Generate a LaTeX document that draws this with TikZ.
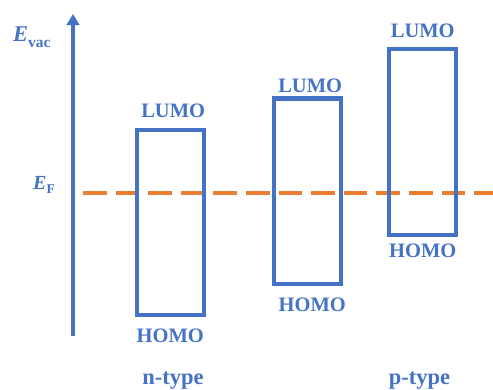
\documentclass[tikz,border=0pt]{standalone}
\usepackage{fontspec}
\setmainfont{Liberation Serif}
\usetikzlibrary{arrows.meta,positioning}
\definecolor{bandblue}{HTML}{4472C4}
\definecolor{fermiorange}{HTML}{ED7D31}
\newcommand{\sz}[1]{\fontsize{#1}{#1}\selectfont}

\begin{document}
\begin{tikzpicture}[x=1pt,y=-1pt,
    band/.style={draw=bandblue, line width=4.3pt, minimum width=67pt, minimum height=185.5pt, inner sep=0pt},
    lvl/.style={text=bandblue, font=\bfseries\sz{20.5}, inner sep=0pt},
    kind/.style={text=bandblue, font=\bfseries\sz{22.5}, inner sep=0pt, anchor=base}]
    \useasboundingbox (0,0) rectangle (493,389);
	  % energy axis and Fermi level
	  \coordinate (bottom) at (73,336); \coordinate (top) at (73,14);
	  \draw[bandblue, line width=4pt, -{Triangle[width=12.5pt,length=11pt]}] (bottom) -- (top);
	  \coordinate (fermiL) at (83,193); \coordinate (fermiR) at (493,193);
	  \draw[fermiorange, line width=3.3pt, dash pattern=on 23.6pt off 9pt] (fermiL) -- (fermiR);
	  \node[text=bandblue, anchor=base west, inner sep=0pt] (evac) at (13,41.7) {\sz{22.5}\textbf{\textit{E}}\raisebox{-5.5pt}{\bfseries\sz{15.5}vac}};
	  \node[text=bandblue, anchor=base west, inner sep=0pt] (ef) at (33,189) {\sz{20}\textbf{\textit{E}}\raisebox{-4.3pt}{\bfseries\sz{13.5}F}};
    % HOMO/LUMO gaps
		\node[band] (gap1) at (170.2,222.4) {};
		\node[band] (gap2) at (307.2,191.3) {};
		\node[band] (gap3) at (422.8,142) {};
		\node[lvl, above=10pt of gap1, xshift=3pt] (lumo1) {LUMO};
		\node[lvl, below=11pt of gap1] (homo1) {HOMO};
		\node[lvl, above=3.5pt of gap2, xshift=3pt] (lumo2) {LUMO};
		\node[lvl, below=11.5pt of gap2, xshift=5pt] (homo2) {HOMO};
		\node[lvl, above=9pt of gap3] (lumo3) {LUMO};
		\node[lvl, below=6.5pt of gap3] (homo3) {HOMO};
		\node[kind] (ntype) at (173,384.5) {n-type};
		\node[kind] (ptype) at (419.5,384.5) {p-type};
\end{tikzpicture}
\end{document}
